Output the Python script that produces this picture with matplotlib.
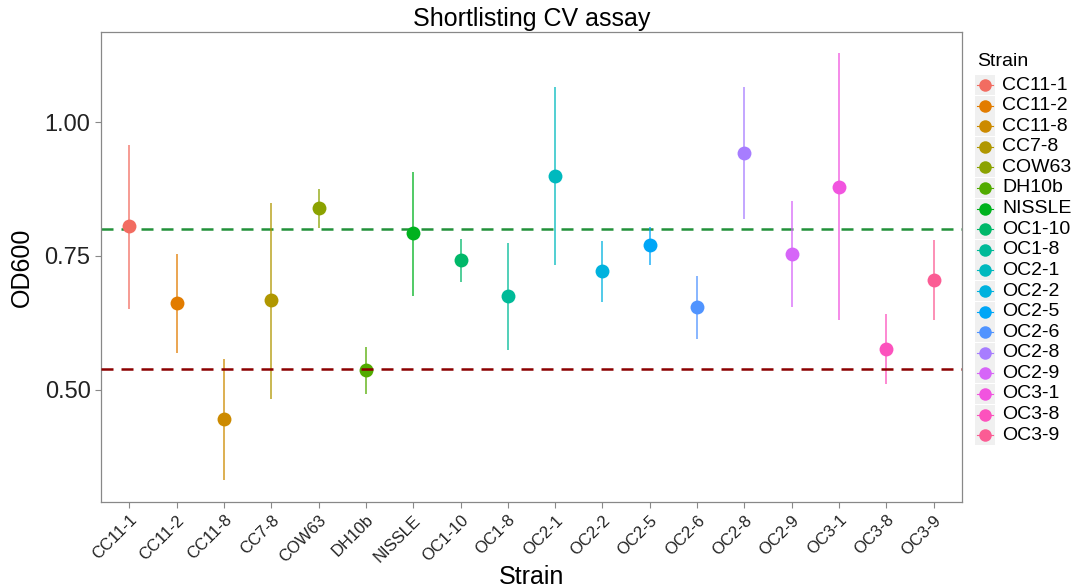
import numpy as np
import matplotlib
matplotlib.use("Agg")
import matplotlib.pyplot as plt
from matplotlib.patches import Rectangle
from matplotlib.lines import Line2D

plt.rcParams['font.family'] = ['Liberation Sans', 'DejaVu Sans']

strains = ["CC11-1", "CC11-2", "CC11-8", "CC7-8", "COW63", "DH10b", "NISSLE",
           "OC1-10", "OC1-8", "OC2-1", "OC2-2", "OC2-5", "OC2-6", "OC2-8",
           "OC2-9", "OC3-1", "OC3-8", "OC3-9"]
od_mean = [0.806, 0.662, 0.446, 0.668, 0.840, 0.537, 0.793, 0.743, 0.675,
           0.899, 0.722, 0.771, 0.655, 0.942, 0.754, 0.879, 0.576, 0.705]
od_low = [0.651, 0.569, 0.332, 0.483, 0.802, 0.493, 0.675, 0.701, 0.575,
          0.733, 0.664, 0.733, 0.595, 0.819, 0.655, 0.631, 0.511, 0.631]
od_high = [0.957, 0.754, 0.558, 0.849, 0.875, 0.580, 0.907, 0.782, 0.774,
           1.065, 0.778, 0.804, 0.713, 1.065, 0.853, 1.129, 0.642, 0.780]
upper_cut = 0.800
lower_cut = 0.539


def hue_pal(n, c=100, l=65):
    # ggplot-style evenly spaced hues in polar LUV
    hues = np.linspace(15, 375, n + 1)[:-1]
    Xn, Yn, Zn = 95.047, 100.0, 108.883
    un = 4 * Xn / (Xn + 15 * Yn + 3 * Zn)
    vn = 9 * Yn / (Xn + 15 * Yn + 3 * Zn)
    Y = Yn * ((l + 16) / 116) ** 3
    out = []
    for h in hues:
        u = c * np.cos(np.radians(h))
        v = c * np.sin(np.radians(h))
        up = u / (13 * l) + un
        vp = v / (13 * l) + vn
        X = 9 * Y * up / (4 * vp)
        Z = -X / 3 - 5 * Y + 3 * Y / vp
        xyz = np.array([X, Y, Z]) / 100
        M = np.array([[3.2404542, -1.5371385, -0.4985314],
                      [-0.9692660, 1.8760108, 0.0415560],
                      [0.0556434, -0.2040259, 1.0572252]])
        rgb = M @ xyz
        rgb = np.where(rgb <= 0.0031308, 12.92 * rgb,
                       1.055 * np.power(np.clip(rgb, 0, None), 1 / 2.4) - 0.055)
        out.append(tuple(np.clip(rgb, 0, 1)))
    return out


colors = hue_pal(len(strains), c=105, l=62)
x = np.arange(1, len(strains) + 1)

fig = plt.figure(figsize=(10.74, 5.88), dpi=100)
ax = fig.add_axes([0.094, 0.1463, 0.8017, 0.7993])

ax.axhline(upper_cut, color="#22913A", lw=1.8, dashes=(4.8, 3.2), zorder=1)
for i in range(len(strains)):
    ax.vlines(x[i], od_low[i], od_high[i], color=colors[i], lw=1.2,
              alpha=0.8, zorder=2)
    ax.plot(x[i], od_mean[i], 'o', color=colors[i], ms=10, mew=0, zorder=3)
ax.axhline(lower_cut, color="#8B0000", lw=1.8, dashes=(4.8, 3.2), zorder=4)

ax.set_xlim(0.4, len(strains) + 0.6)
ax.set_ylim(0.291, 1.168)
ax.set_yticks([0.50, 0.75, 1.00])
ax.set_yticklabels(["0.50", "0.75", "1.00"], fontsize=17, color="#222222")
ax.set_xticks(x)
ax.set_xticklabels(strains, rotation=45, ha="right", va="top",
                   rotation_mode="anchor", fontsize=12, color="#222222")
ax.tick_params(length=4, color="#888888", width=0.8)
for s in ax.spines.values():
    s.set_color("#888888")
    s.set_linewidth(0.9)

ax.set_title("Shortlisting CV assay", fontsize=18, pad=4)
ax.set_ylabel("OD600", fontsize=18, labelpad=8)
ax.set_xlabel("Strain", fontsize=18, labelpad=0)

# legend drawn by hand so each key gets its grey tile
W, H = 1074, 588
fig.text(977 / W, 1 - 62 / H, "Strain", fontsize=14, va="center", ha="left")
for i, name in enumerate(strains):
    yc = 85 + i * 20.6
    fig.add_artist(Rectangle((975 / W, 1 - (yc + 10) / H), 20 / W, 20 / H,
                             transform=fig.transFigure, facecolor="#F0F0F0",
                             edgecolor="none"))
    fig.add_artist(Line2D([977 / W, 993 / W], [1 - yc / H, 1 - yc / H],
                          transform=fig.transFigure, color=colors[i], lw=0.8))
    fig.add_artist(Line2D([985 / W], [1 - yc / H], transform=fig.transFigure,
                          marker='o', color=colors[i], ms=9, mew=0))
    fig.text(1002 / W, 1 - yc / H, name, fontsize=14, va="center", ha="left")

fig.savefig("out.png", dpi=100)
